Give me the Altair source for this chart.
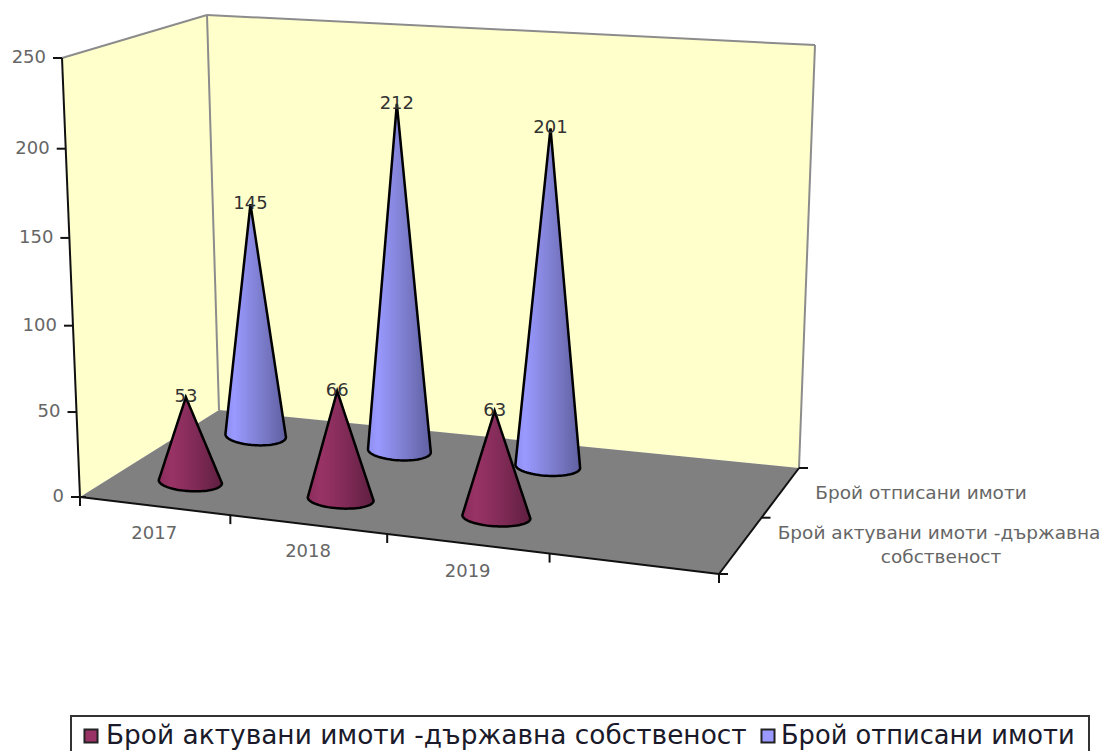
import math
import numpy as np
import pandas as pd
import altair as alt

categories = ["2017", "2018", "2019"]
series_front = "Брой актувани имоти -държавна собственост"
series_back = "Брой отписани имоти"
values_front = [53, 66, 63]
values_back = [145, 212, 201]
y_ticks = [0, 50, 100, 150, 200, 250]

FONT = "DejaVu Sans"

# ---- view geometry of the 3-D box (frame of the projection, in page pixels)
A, B, C, D = (80, 497), (219, 410), (799, 468), (719, 574)   # floor corners
TL, TB, TR = (62, 58), (207, 15), (815, 45)                  # top corners


def homography(src, dst):
    M, r = [], []
    for (u, v), (x, y) in zip(src, dst):
        M.append([u, v, 1, 0, 0, 0, -u * x, -v * x]); r.append(x)
        M.append([0, 0, 0, u, v, 1, -u * y, -v * y]); r.append(y)
    h = np.linalg.solve(np.array(M, float), np.array(r, float))
    return np.append(h, 1).reshape(3, 3)


H = homography([(0, 0), (0, 2), (4, 2), (4, 0)], [A, B, C, D])


def floor(u, d):
    u = u + 0.045 * math.sin(math.pi * u / 4)
    p = H @ np.array([u, d, 1.0])
    return p[0] / p[2], p[1] / p[2]


def height_scale(x):
    return 1.51 + 0.0003 * x


def raise_point(x, y, v):
    h = height_scale(x) * v + 1.5
    return x + (x - 470) * 1.05e-4 * h, y - h


def axis_at(v):
    t = v / 250
    w = 0.96
    den = (1 - t) + w * t
    return ((A[0] * (1 - t) + w * TL[0] * t) / den, (A[1] * (1 - t) + w * TL[1] * t) / den)


def slices(poly):
    xs = sorted({p[0] for p in poly})
    rows = []
    n = len(poly)
    for x in xs:
        ys = []
        for i in range(n):
            (x0, y0), (x1, y1) = poly[i], poly[(i + 1) % n]
            if min(x0, x1) <= x <= max(x0, x1) and x0 != x1:
                ys.append(y0 + (y1 - y0) * (x - x0) / (x1 - x0))
        rows.append({"x": x, "y": min(ys), "y2": max(ys)})
    return pd.DataFrame(rows)


X = alt.X("x:Q", axis=None, scale=alt.Scale(domain=[8, 1102], nice=False, zero=False))
Y = alt.Y("y:Q", axis=None, scale=alt.Scale(domain=[751, 8], nice=False, zero=False))


def wall(poly, color):
    return alt.Chart(slices(poly)).mark_area(color=color, orient="vertical").encode(X, Y, y2="y2:Q")


def lines(segments, color, width):
    rows = []
    for k, seg in enumerate(segments):
        for o, (x, y) in enumerate(seg):
            rows.append({"x": x, "y": y, "k": k, "o": o})
    return alt.Chart(pd.DataFrame(rows)).mark_line(color=color, strokeWidth=width).encode(
        X, Y, detail="k:N", order="o:Q")


def texts(rows, size, color, align="center", weight="normal"):
    return alt.Chart(pd.DataFrame(rows)).mark_text(
        font=FONT, fontSize=size, color=color, align=align, baseline="middle", fontWeight=weight
    ).encode(X, Y, text="t:N")


def cones(values, d, stops, shift_x=0.0, shift_y=0.0, lean=0.0):
    rows = []
    tops = []
    for i, v in enumerate(values):
        cx, cy = floor(i + 0.5, d)
        xl, _ = floor(i, d)
        xr, _ = floor(i + 1, d)
        cx, cy = cx + shift_x, cy + shift_y
        r = 0.215 * (xr - xl)
        ax, ay = raise_point(cx, cy, v)
        ax += lean
        tops.append({"x": ax, "y": ay, "t": str(v)})
        slope = 0.05
        ts = [math.cos(math.pi * (1 - s / 40)) for s in range(41)]
        xs = sorted([cx + r * t for t in ts] + [ax])
        for x in xs:
            t = max(-1, min(1, (x - cx) / r))
            base = cy + slope * (x - cx)
            low = base + 9.5 * math.sqrt(max(0, 1 - t * t))
            if x <= ax:
                ey = cy - slope * r
                top = ey + (ay - ey) * (x - (cx - r)) / (ax - (cx - r))
            else:
                ey = cy + slope * r
                top = ey + (ay - ey) * ((cx + r) - x) / ((cx + r) - ax)
            rows.append({"x": x, "y": top, "y2": low, "cone": i})
    grad = alt.Gradient(gradient="linear", x1=0, x2=1, y1=0, y2=0,
                        stops=[alt.GradientStop(offset=o, color=c) for o, c in stops])
    area = alt.Chart(pd.DataFrame(rows)).mark_area(
        fill=grad, stroke="black", strokeWidth=2.5, orient="vertical"
    ).encode(X, Y, y2="y2:Q", detail="cone:N")
    return area, tops


GREY = "#808080"
layers = [
    wall([TL, TB, B, A], "#FFFFCC"),
    wall([TB, TR, C, B], "#FFFFCC"),
    wall([A, B, C, D], GREY),
    lines([[TL, TB], [TB, B], [TB, TR], [TR, C]], "#8c8c8c", 2),
]

axis_segs = [[axis_at(0), axis_at(250)], [A, D], [D, C]]
for v in y_ticks:
    x, y = axis_at(v)
    axis_segs.append([(x - 9, y), (x + (6 if v == 0 else 0), y)])
for u in range(0, 5):
    x, y = floor(u, 0)
    axis_segs.append([(x, y), (x, y + 9)])
for d in range(0, 3):
    x, y = floor(4, d)
    axis_segs.append([(x, y), (x + 9, y)])
layers.append(lines(axis_segs, "#111111", 2))

back, back_tops = cones(values_back, 1.5, [(0, "#8f8ff0"), (0.15, "#9999FF"), (0.6, "#7c7ccc"), (1, "#5f5fa0")],
                        shift_x=-1.0, shift_y=-1.5)
front, front_tops = cones(values_front, 0.5, [(0, "#8a2d5c"), (0.2, "#993366"), (0.6, "#7f2a56"), (1, "#5e1f40")],
                          lean=-2.0)
layers += [back, front]
layers.append(texts(front_tops + back_tops, 18, "#333333"))

tick_rows = []
for v in y_ticks:
    x, y = axis_at(v)
    tick_rows.append({"x": x - 16, "y": y, "t": str(v)})
layers.append(texts(tick_rows, 18, "#666666", align="right"))

cat_rows = []
for i, c in enumerate(categories):
    x, y = floor(i + 0.5, 0)
    cat_rows.append({"x": x, "y": y + 28, "t": c})
layers.append(texts(cat_rows, 18, "#666666"))

side_rows = [
    {"x": 921, "y": 493, "t": series_back},
    {"x": 939, "y": 533, "t": "Брой актувани имоти -държавна"},
    {"x": 941, "y": 557, "t": "собственост"},
]
layers.append(texts(side_rows, 18.5, "#666666"))

# legend
layers.append(lines([[(71, 751), (71, 716), (1089, 716), (1089, 751)]], "#333333", 2))
layers.append(alt.Chart(pd.DataFrame([
    {"x": 91, "y": 736, "s": series_front},
    {"x": 768, "y": 736, "s": series_back},
])).mark_square(size=170, stroke="#222222", strokeWidth=2, opacity=1).encode(
    X, Y,
    fill=alt.Fill("s:N", legend=None, scale=alt.Scale(domain=[series_front, series_back],
                                                      range=["#993366", "#9999FF"]))))
layers.append(texts([{"x": 106, "y": 736, "t": series_front}], 26.4, "#1a1a2a", align="left"))
layers.append(texts([{"x": 781, "y": 736, "t": series_back}], 25.7, "#1a1a2a", align="left"))

chart = alt.layer(*layers).properties(
    width=1094, height=743, padding=0, autosize=alt.AutoSizeParams(type="none"),
    background="white"
).configure_view(stroke=None)

chart.save("out.html", embed_options={"renderer": "svg", "actions": False})
